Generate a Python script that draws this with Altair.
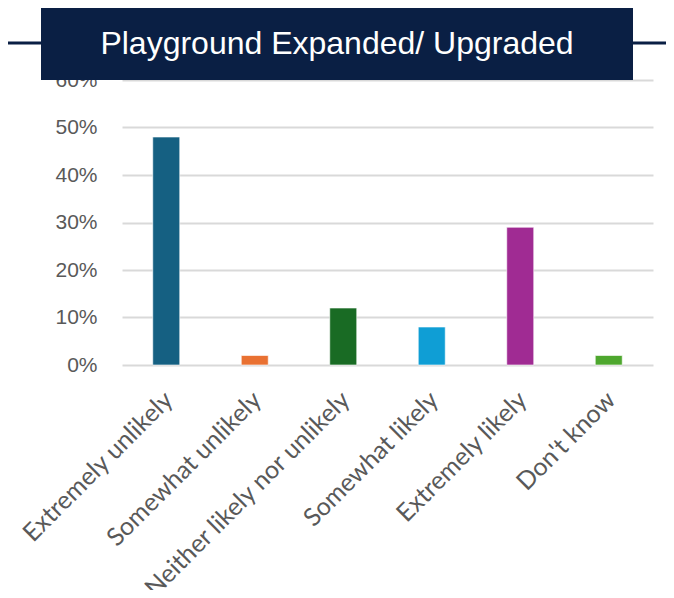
import altair as alt
import pandas as pd

categories = ["Extremely unlikely", "Somewhat unlikely", "Neither likely nor unlikely",
              "Somewhat likely", "Extremely likely", "Don't know"]
values = [0.48, 0.02, 0.12, 0.08, 0.29, 0.02]
colors = ["#156082", "#E97132", "#196B24", "#0F9ED5", "#A02B93", "#4EA72E"]
title_text = "Playground Expanded/ Upgraded"
navy = "#0A1F44"

df = pd.DataFrame({"cat": categories, "val": values})

bars = alt.Chart(df).mark_bar(stroke="white", strokeWidth=1, strokeOpacity=0.6).encode(
    x=alt.X("cat:N", sort=categories, title=None,
            scale=alt.Scale(paddingInner=0.695, paddingOuter=0.3475),
            axis=alt.Axis(labelAngle=-45, labelAlign="right", labelBaseline="top",
                          labelFont="Lato", labelFontSize=25, labelColor="#595959",
                          labelPadding=22, labelOffset=-6, ticks=False, domain=False,
                          labelLimit=400)),
    y=alt.Y("val:Q", title=None,
            scale=alt.Scale(domain=[0, 0.6], nice=False),
            axis=alt.Axis(format=".0%", values=[0, 0.1, 0.2, 0.3, 0.4, 0.5, 0.6],
                          labelFont="Liberation Sans", labelFontSize=21, labelColor="#595959",
                          labelPadding=25, ticks=False, domain=False,
                          gridColor="#D9D9D9", gridWidth=2)),
    color=alt.Color("cat:N", sort=categories,
                    scale=alt.Scale(domain=categories, range=colors), legend=None),
)

deco = pd.DataFrame({"t": [title_text]})

line = alt.Chart(deco).mark_rule(color=navy, strokeWidth=3).encode(
    x=alt.value(-117), x2=alt.value(552), y=alt.value(-37))

box = alt.Chart(deco).mark_rect(color=navy).encode(
    x=alt.value(-81), x2=alt.value(511), y=alt.value(-74), y2=alt.value(0))

txt = alt.Chart(deco).mark_text(color="white", font="Liberation Sans", fontSize=32,
                                align="center", baseline="middle").encode(
    x=alt.value(215), y=alt.value(-36), text="t:N")

chart = alt.layer(bars, line, box, txt).properties(
    width=531, height=285,
    autosize=alt.AutoSizeParams(type="none"),
    padding={"left": 114, "top": 72, "right": 13, "bottom": 225},
).configure_view(stroke=None)

chart.save("out.html", embed_options={"renderer": "svg", "actions": False})
